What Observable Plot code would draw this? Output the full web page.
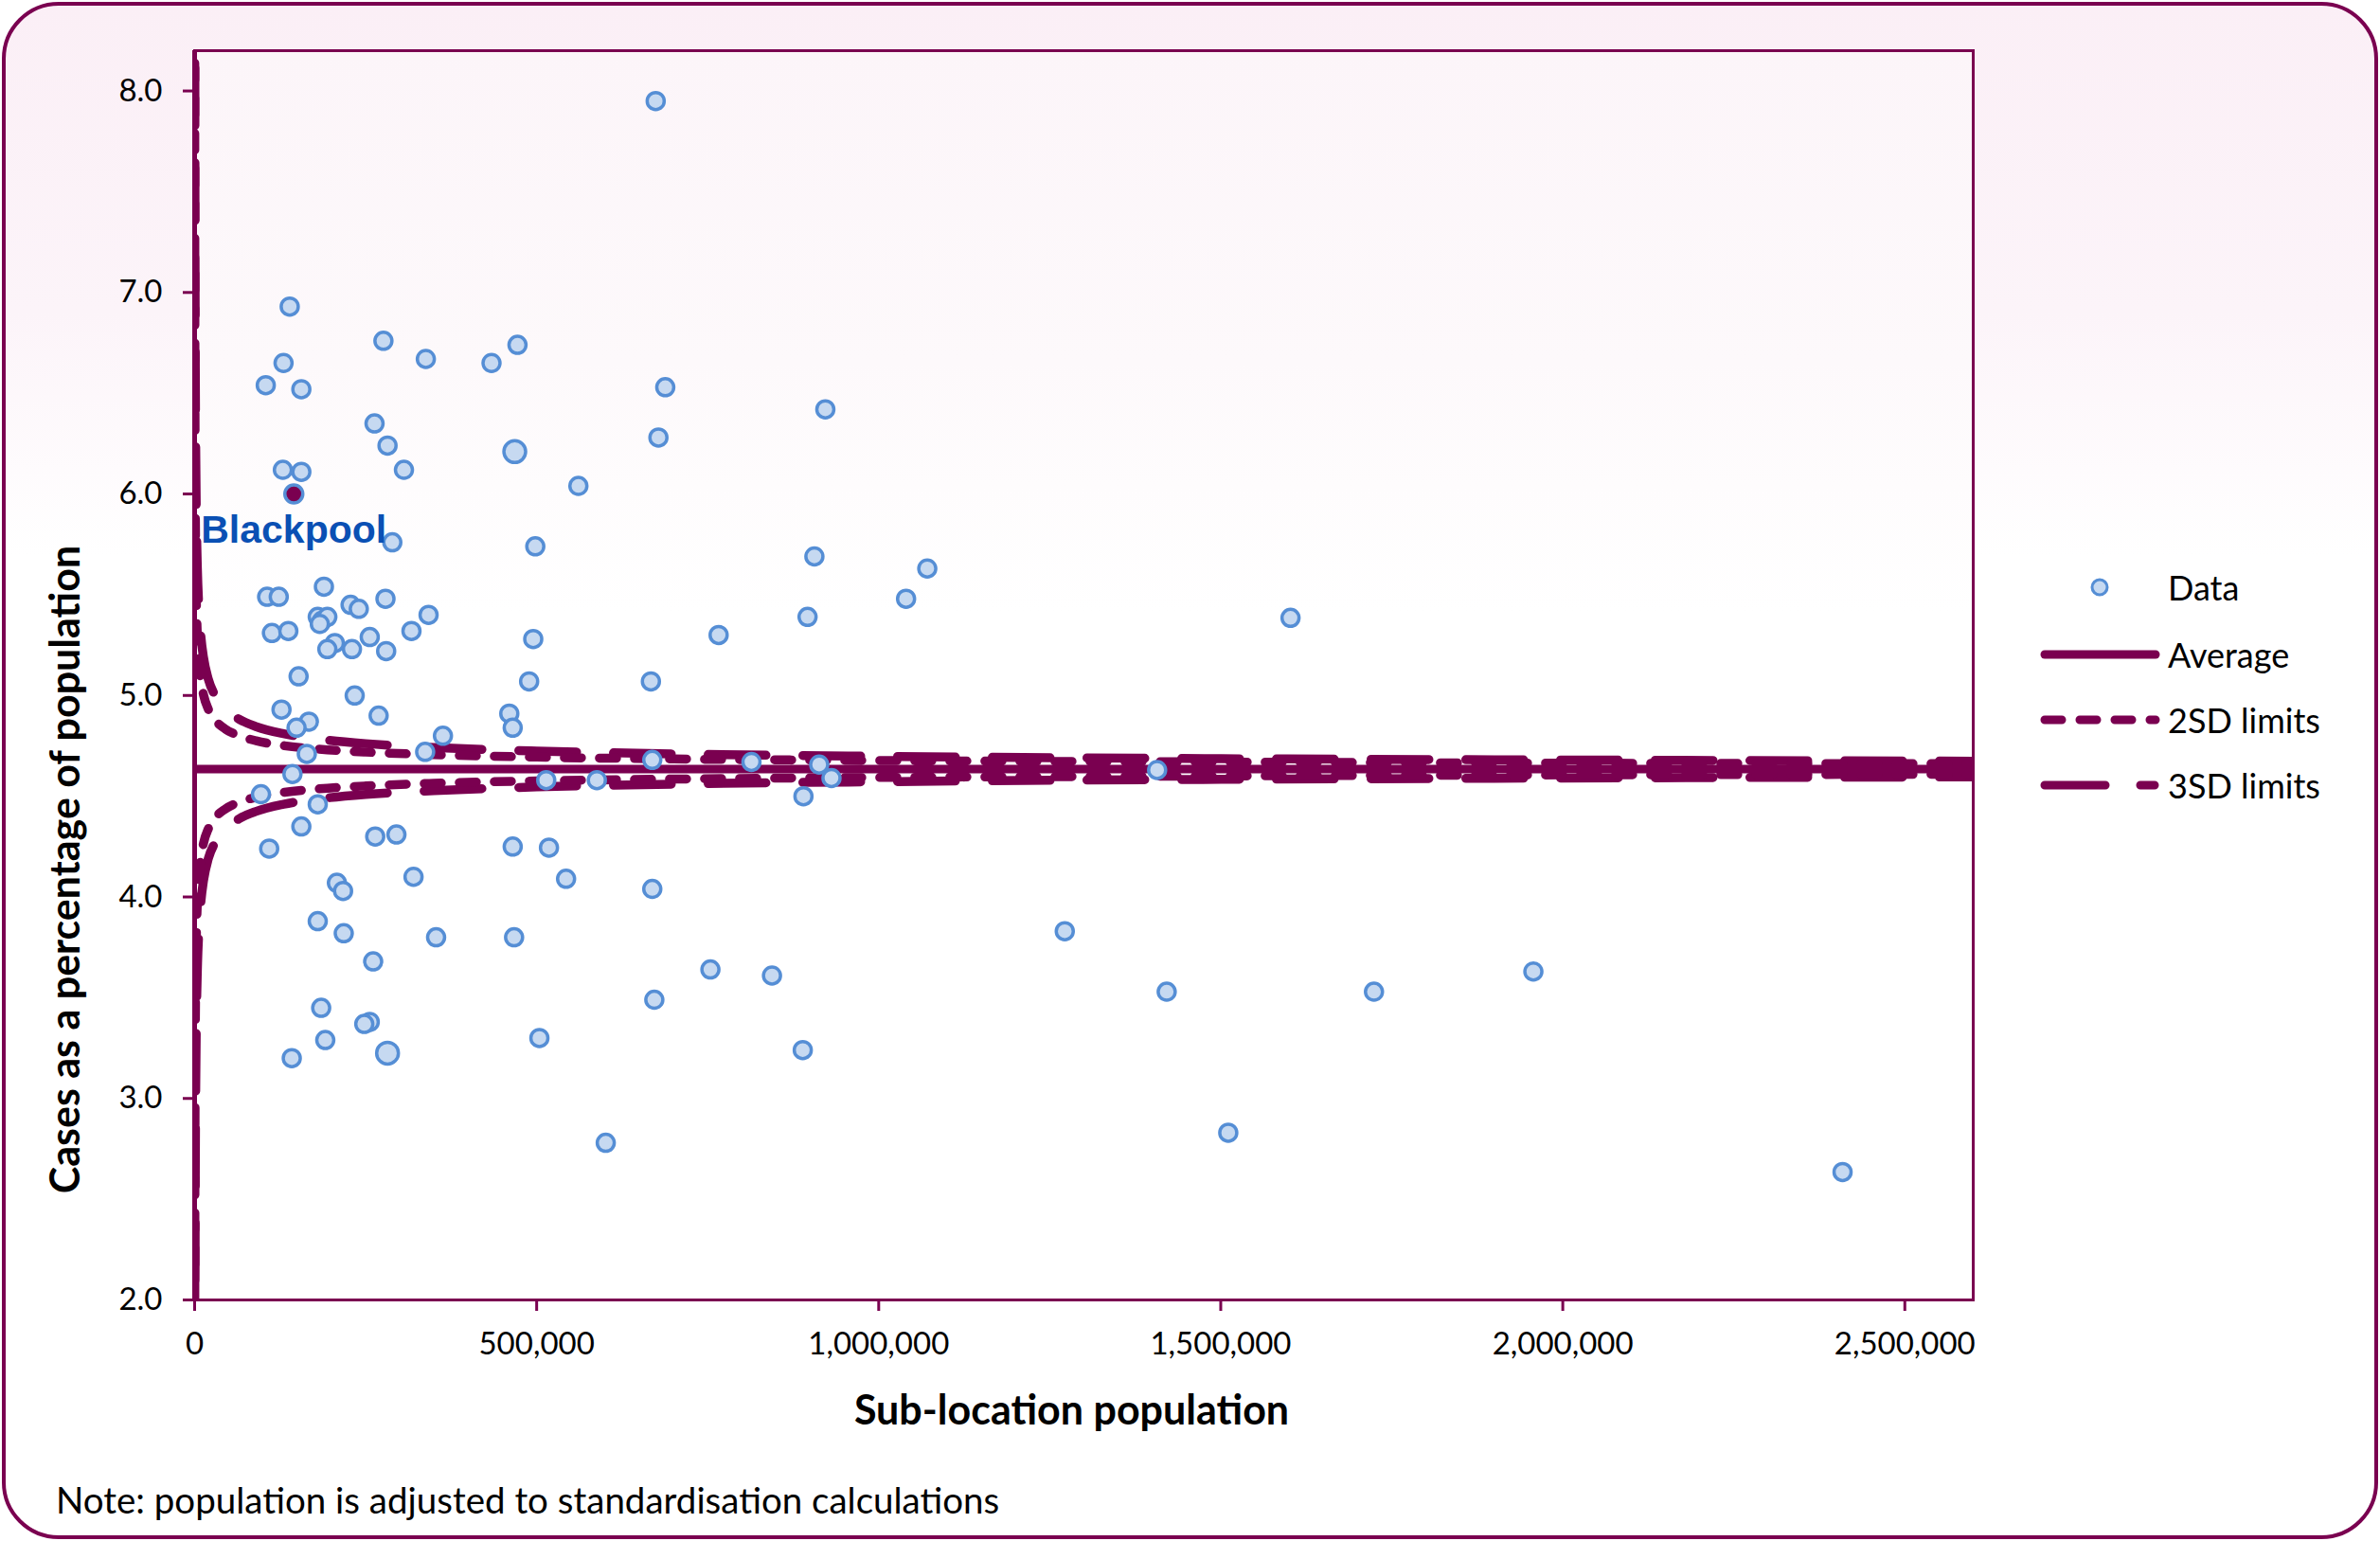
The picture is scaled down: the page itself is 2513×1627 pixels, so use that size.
<!DOCTYPE html>
<html>
<head>
<meta charset="utf-8">
<script src="https://cdn.jsdelivr.net/npm/d3@7"></script>
<script src="https://cdn.jsdelivr.net/npm/@observablehq/plot@0.6"></script>
<style>
  html, body { margin: 0; padding: 0; background: #ffffff; }
  #page { position: relative; width: 2513px; height: 1627px; font-family: Lato, "Open Sans", sans-serif; color: #000; overflow: hidden; }
  #card { position: absolute; left: 2px; top: 2px; width: 2509px; height: 1623px; box-sizing: border-box;
          border: 4px solid #7a0050; border-radius: 60px;
          background: linear-gradient(to bottom, #fbeff6 0%, #fcf4f9 20%, #ffffff 36%, #ffffff 100%); }
  #plotArea { position: absolute; left: 205px; top: 53px; width: 1878px; height: 1319px;
          background: linear-gradient(to bottom, #fcf5f9 0%, #fdf9fb 25%, #ffffff 45%, #ffffff 100%); }
  #chart { position: absolute; left: 0; top: 0; }
  #legend { position: absolute; left: 0; top: 0; width: 2513px; height: 1627px; }
  .lg-row { position: absolute; left: 2152px; height: 40px; display: flex; align-items: center; white-space: nowrap; }
  .lg-row svg { width: 130px; height: 30px; margin-right: 7px; flex: none; }
  .lg-row span { font-size: 36px; line-height: 40px; }
  #caption { position: absolute; left: 59px; top: 1560px; font-size: 38.5px; line-height: 46px; white-space: nowrap; }
</style>
</head>
<body>
<div id="page">
  <div id="card"></div>
  <div id="plotArea"></div>
  <div id="chart"></div>
  <div id="legend"></div>
  <div id="caption">Note: population is adjusted to standardisation calculations</div>
</div>
<script>
// Sub-location population and cases as a percentage of population
const population = [
  674000, 139000, 276000, 130000, 338000, 434000, 472000, 104000, 156000, 688000,
  922000, 263000, 282000, 468000, 678000, 129000, 156000, 306000, 561000, 289000,
  498000, 906000, 1071000, 106000, 123000, 189000, 228000, 240000, 279000, 1040000,
  180000, 186000, 194000, 183000, 342000, 896000, 1602000, 113000, 137000, 317000,
  205000, 194000, 230000, 256000, 280000, 495000, 766000, 152000, 489000, 667000,
  234000, 127000, 269000, 460000, 465000, 167000, 149000, 363000, 164000, 337000,
  669000, 814000, 913000, 1407000, 143000, 514000, 588000, 931000, 97000, 890000,
  180000, 156000, 264000, 295000, 465000, 518000, 109000, 320000, 543000, 208000,
  217000, 669000, 180000, 218000, 353000, 467000, 1272000, 261000, 754000, 844000,
  1957000, 1421000, 1724000, 185000, 672000, 256000, 248000, 191000, 504000, 282000,
  889000, 142000, 601000, 1511000, 2409000
];
const casesPct = [
  7.95, 6.93, 6.76, 6.65, 6.67, 6.65, 6.74, 6.54, 6.52, 6.53,
  6.42, 6.35, 6.24, 6.21, 6.28, 6.12, 6.11, 6.12, 6.04, 5.76,
  5.74, 5.69, 5.63, 5.49, 5.49, 5.54, 5.45, 5.43, 5.48, 5.48,
  5.39, 5.37, 5.39, 5.355, 5.40, 5.39, 5.385, 5.31, 5.32, 5.32,
  5.26, 5.23, 5.23, 5.29, 5.22, 5.28, 5.30, 5.095, 5.07, 5.07,
  5.00, 4.93, 4.90, 4.91, 4.84, 4.87, 4.84, 4.80, 4.71, 4.72,
  4.68, 4.67, 4.657, 4.63, 4.61, 4.58, 4.58, 4.59, 4.51, 4.50,
  4.46, 4.35, 4.30, 4.31, 4.25, 4.245, 4.24, 4.10, 4.09, 4.07,
  4.03, 4.04, 3.88, 3.82, 3.80, 3.80, 3.83, 3.68, 3.64, 3.61,
  3.63, 3.53, 3.53, 3.45, 3.49, 3.38, 3.37, 3.29, 3.30, 3.225,
  3.24, 3.20, 2.78, 2.83, 2.635
];

// Highlighted sub-location
const highlightName = ["Blackpool"];
const highlightPopulation = [145000];
const highlightPct = [6.00];

// Overall average and control limits (cases %, by population)
const averagePct = 4.635;
const limitPopulation = [100, 200, 400, 700, 1000, 1500, 2500, 4000, 6000, 9000, 13000, 20000, 30000, 45000, 65000, 90000, 130000, 180000, 250000, 350000, 500000, 700000, 1000000, 1400000, 1900000, 2600000];
const upper2SD = [8.835, 7.605, 6.735, 6.222, 5.963, 5.719, 5.475, 5.299, 5.177, 5.078, 5.003, 4.932, 4.877, 4.833, 4.800, 4.775, 4.751, 4.734, 4.719, 4.706, 4.694, 4.685, 4.677, 4.671, 4.665, 4.661];
const lower2SD = [0.435, 1.665, 2.535, 3.048, 3.307, 3.551, 3.795, 3.971, 4.093, 4.192, 4.267, 4.338, 4.393, 4.437, 4.470, 4.495, 4.519, 4.536, 4.551, 4.564, 4.576, 4.585, 4.593, 4.599, 4.605, 4.609];
const upper3SD = [10.935, 9.090, 7.785, 7.016, 6.627, 6.262, 5.895, 5.631, 5.448, 5.299, 5.188, 5.081, 4.999, 4.932, 4.882, 4.845, 4.810, 4.784, 4.761, 4.742, 4.724, 4.710, 4.698, 4.688, 4.681, 4.674];
const lower3SD = [-1.665, 0.180, 1.485, 2.254, 2.643, 3.008, 3.375, 3.639, 3.822, 3.971, 4.082, 4.190, 4.271, 4.338, 4.388, 4.425, 4.460, 4.486, 4.509, 4.528, 4.546, 4.560, 4.572, 4.582, 4.589, 4.596];

// Axis ticks
const xTicks = [0, 500000, 1000000, 1500000, 2000000, 2500000];
const yTicks = [2, 3, 4, 5, 6, 7, 8];

// Legend entries
const legendLabels = ["Data", "Average", "2SD limits", "3SD limits"];

// ---- build tables ----
const points = population.map((p, i) => ({pop: p, pct: casesPct[i]}));
const highlight = highlightName.map((name, i) => ({name, pop: highlightPopulation[i], pct: highlightPct[i]}));
const limits = limitPopulation.map((n, i) => ({n, u2: upper2SD[i], l2: lower2SD[i], u3: upper3SD[i], l3: lower3SD[i]}));

const purple = "#7a0050";
const dotFill = "#c6d9f1";
const dotStroke = "#558ed5";
const dash2 = "18,19";
const dash3 = "61,39";

// two markers are drawn a little larger
const largerMarkers = new Set([13, 99]);
const dotRadius = (d, i) => largerMarkers.has(i) ? 11.5 : 9;

const limitLine = (y, dash) => Plot.line(limits, {
  x: "n", y, stroke: purple, strokeWidth: 9.5, strokeDasharray: dash,
  strokeLinecap: "round", strokeLinejoin: "round", curve: "monotone-x", clip: true
});

const chart = Plot.plot({
  width: 2513,
  height: 1540,
  marginLeft: 205,
  marginRight: 430,
  marginTop: 53,
  marginBottom: 168,
  x: {domain: [0, 2600000]},
  y: {domain: [2, 8.2]},
  r: {type: "identity"},
  style: {fontFamily: "Lato, 'Open Sans', sans-serif", fontSize: "33px", background: "transparent", color: "#000", overflow: "visible"},
  marks: [
    limitLine("u3", dash3),
    limitLine("l3", dash3),
    limitLine("u2", dash2),
    limitLine("l2", dash2),
    Plot.ruleY([averagePct], {stroke: purple, strokeWidth: 9}),
    Plot.ruleX([0], {stroke: purple, strokeWidth: 5}),
    Plot.frame({stroke: purple, strokeWidth: 3}),
    Plot.axisY({ticks: yTicks, tickFormat: d3.format(".1f"), tickSize: 12, tickPadding: 22, stroke: purple, strokeWidth: 3, fill: "#000", fontSize: 33, label: null}),
    Plot.axisX({ticks: xTicks, tickFormat: d3.format(","), tickSize: 12, tickPadding: 22, stroke: purple, strokeWidth: 3, fill: "#000", fontSize: 33, label: null}),
    Plot.dot(points, {x: "pop", y: "pct", r: dotRadius, fill: dotFill, stroke: dotStroke, strokeWidth: 3.5}),
    Plot.dot(highlight, {x: "pop", y: "pct", r: 9.5, fill: purple, stroke: dotStroke, strokeWidth: 3.5}),
    Plot.text(highlight, {x: "pop", y: "pct", text: "name", dy: 38, fill: "#0a50b4", fontFamily: "'Liberation Sans', Arial, sans-serif", fontWeight: "bold", fontSize: 41}),
    Plot.text(["Sub-location population"], {frameAnchor: "bottom", dx: -13, dy: 118, textAnchor: "middle", lineAnchor: "middle", fontWeight: "bold", fontSize: 43, fill: "#000"}),
    Plot.text(["Cases as a percentage of population"], {frameAnchor: "left", dx: -135, dy: 205, rotate: -90, textAnchor: "middle", lineAnchor: "middle", fontWeight: "bold", fontSize: 43, fill: "#000"})
  ]
});
document.getElementById("chart").appendChild(chart);

// ---- legend ----
const legend = d3.select("#legend");
const rowCenters = [620, 691, 760, 829];
legendLabels.forEach((label, i) => {
  const row = legend.append("div").attr("class", "lg-row").style("top", (rowCenters[i] - 20) + "px");
  const svg = row.append("svg").attr("viewBox", "0 0 130 30");
  if (i === 0) {
    svg.append("circle").attr("cx", 65).attr("cy", 15).attr("r", 8)
      .attr("fill", dotFill).attr("stroke", dotStroke).attr("stroke-width", 3);
  } else {
    const ln = svg.append("line").attr("x1", 7).attr("x2", 124).attr("y1", 15).attr("y2", 15)
      .attr("stroke", purple).attr("stroke-width", 9).attr("stroke-linecap", "round");
    if (i === 2) ln.attr("stroke-dasharray", dash2);
    if (i === 3) ln.attr("stroke-dasharray", "64,37,15,37");
  }
  row.append("span").text(label);
});
</script>
</body>
</html>
